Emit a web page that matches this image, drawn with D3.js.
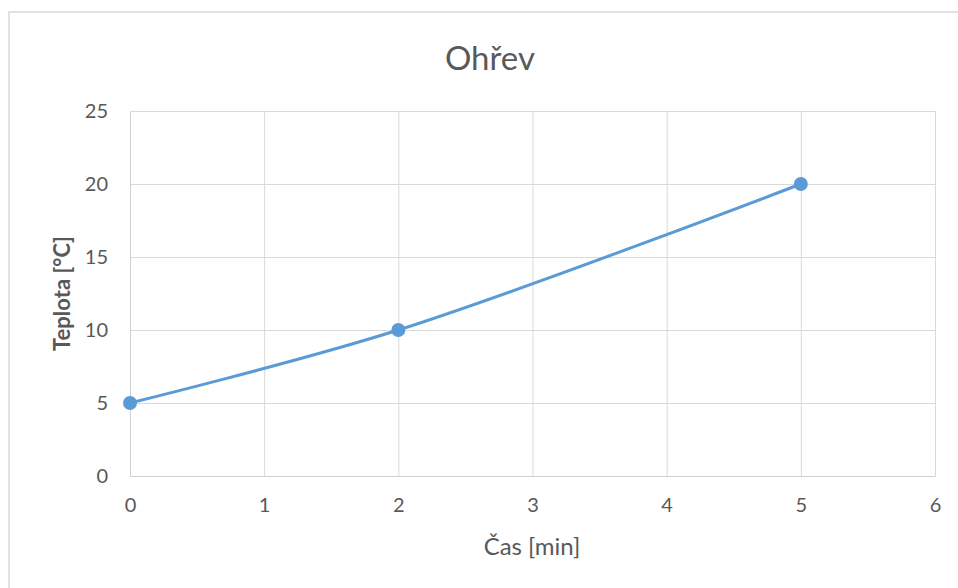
<!DOCTYPE html>
<html>
<head>
<meta charset="utf-8">
<script src="https://cdn.jsdelivr.net/npm/d3@7/dist/d3.min.js"></script>
<style>
  html, body { margin: 0; padding: 0; background: #fff; }
  svg { display: block; }
  text { font-family: Lato, "Open Sans", sans-serif; fill: #595959; }
</style>
</head>
<body>
<svg id="chart" width="958" height="588"></svg>
<script>
// Heating measurements: time in minutes, temperature in °C
const casMin = [0, 2, 5];
const teplota = [5, 10, 20];
const xTicks = [0, 1, 2, 3, 4, 5, 6];
const yTicks = [0, 5, 10, 15, 20, 25];
const title = "Ohřev";
const xTitle = "Čas [min]";
const yTitle = "Teplota [°C]";

const svg = d3.select("#chart");
const W = 958, H = 588;
const m = { left: 130, right: 22, top: 111, bottom: 112 };

// chart frame
svg.append("rect")
  .attr("x", 9).attr("y", 12)
  .attr("width", W).attr("height", H)
  .attr("fill", "#fff").attr("stroke", "#d9d9d9").attr("stroke-width", 1.5);

const x = d3.scaleLinear().domain([0, 6]).range([m.left, W - m.right - 1]);
const y = d3.scaleLinear().domain([0, 25]).range([H - m.bottom, m.top]);

// grid
const grid = svg.append("g").attr("stroke", "#d9d9d9").attr("stroke-width", 1);
grid.selectAll("line.v").data(xTicks).join("line")
  .attr("x1", d => x(d) + 0.5).attr("x2", d => x(d) + 0.5)
  .attr("y1", y(0)).attr("y2", y(25));
grid.selectAll("line.h").data(yTicks).join("line")
  .attr("y1", d => y(d) + 0.5).attr("y2", d => y(d) + 0.5)
  .attr("x1", x(0)).attr("x2", x(6));

// axes
const fmt = d3.format("d");
const xAxis = svg.append("g")
  .attr("transform", `translate(0,${y(0)})`)
  .call(d3.axisBottom(x).tickValues(xTicks).tickFormat(fmt).tickSize(0).tickPadding(22));
const yAxis = svg.append("g")
  .attr("transform", `translate(${x(0)},0)`)
  .call(d3.axisLeft(y).tickValues(yTicks).tickFormat(fmt).tickSize(0).tickPadding(22));
[xAxis, yAxis].forEach(a => {
  a.select(".domain").attr("stroke", "#d0d0d0");
  a.selectAll("text").attr("font-size", 20).attr("fill", "#595959")
    .style("font-family", "Lato, 'Open Sans', sans-serif");
});

// series
const pts = casMin.map((c, i) => [c, teplota[i]]);
svg.append("path")
  .datum(pts)
  .attr("fill", "none")
  .attr("stroke", "#5b9bd5")
  .attr("stroke-width", 3)
  .attr("stroke-linecap", "round")
  .attr("d", d3.line().x(d => x(d[0])).y(d => y(d[1])).curve(d3.curveCatmullRom.alpha(0.5)));
svg.selectAll("circle.pt").data(pts).join("circle")
  .attr("cx", d => x(d[0])).attr("cy", d => y(d[1])).attr("r", 7)
  .attr("fill", "#5b9bd5");

// titles
svg.append("text").attr("x", 490).attr("y", 70)
  .attr("text-anchor", "middle").attr("font-size", 33).text(title);
svg.append("text").attr("x", 532).attr("y", 555)
  .attr("text-anchor", "middle").attr("font-size", 24).text(xTitle);
svg.append("text")
  .attr("transform", `translate(70,${(y(0) + y(25)) / 2}) rotate(-90)`)
  .attr("text-anchor", "middle").attr("font-size", 22).attr("font-weight", "bold")
  .text(yTitle);
</script>
</body>
</html>
